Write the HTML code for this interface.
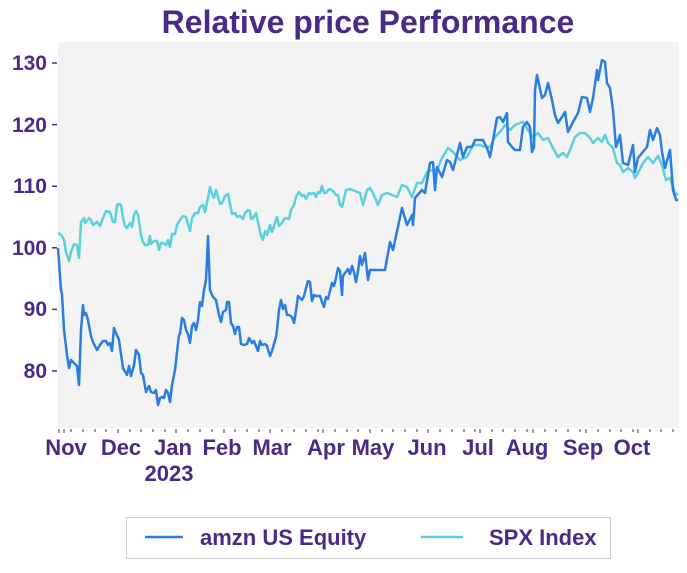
<!DOCTYPE html><html><head><meta charset="utf-8"><style>
body{margin:0;background:#fff;width:687px;height:568px;overflow:hidden}
text{font-family:"Liberation Sans","DejaVu Sans",sans-serif;fill:#4b2a87;font-weight:bold}
</style></head><body>
<svg width="687" height="568" xmlns="http://www.w3.org/2000/svg">
<text x="368" y="33" font-size="32" text-anchor="middle">Relative price Performance</text>
<rect x="58" y="42" width="621" height="386" fill="#f3f3f3"/>
<g stroke="#4b2a87" stroke-width="1.5">
<line x1="52" y1="63" x2="57" y2="63"/><line x1="52" y1="124.6" x2="57" y2="124.6"/><line x1="52" y1="186.2" x2="57" y2="186.2"/><line x1="52" y1="247.8" x2="57" y2="247.8"/><line x1="52" y1="309.4" x2="57" y2="309.4"/><line x1="52" y1="371" x2="57" y2="371"/>
</g>
<g font-size="21" text-anchor="end">
<text x="47" y="70">130</text><text x="47" y="132">120</text><text x="47" y="193">110</text><text x="47" y="255">100</text><text x="47" y="316">90</text><text x="47" y="378">80</text>
</g>
<g stroke="#4b2a87" stroke-width="1">
<path d="M59 429v4M64 429v4M71 429v3M83 429v3M95 429v3M106 429v3M118 429v4M130 429v3M141 429v3M153 429v3M165 429v3M176 429v4M188 429v3M200 429v3M212 429v3M224 429v4M235 429v3M247 429v3M259 429v3M270 429v4M282 429v3M294 429v3M306 429v3M318 429v3M323 429v4M335 429v3M347 429v3M358 429v3M370 429v4M382 429v3M393 429v3M405 429v3M417 429v3M428 429v4M440 429v3M452 429v3M464 429v3M475 429v3M480 429v4M492 429v3M503 429v3M515 429v3M527 429v3M533 429v4M545 429v3M556 429v3M568 429v3M580 429v3M586 429v4M598 429v3M610 429v3M621 429v3M633 429v3M638 429v4M650 429v3M661 429v3M673 429v3"/>
</g>
<g font-size="22" text-anchor="middle">
<text x="66" y="455">Nov</text><text x="121" y="455">Dec</text><text x="173" y="455">Jan</text><text x="222" y="455">Feb</text><text x="272" y="455">Mar</text><text x="326" y="455">Apr</text><text x="373" y="455">May</text><text x="427" y="455">Jun</text><text x="478" y="455">Jul</text><text x="527" y="455">Aug</text><text x="583" y="455">Sep</text><text x="632" y="455">Oct</text>
<text x="169" y="481">2023</text>
</g>
<polyline fill="none" stroke="#5bd0df" stroke-width="2.5" stroke-linejoin="round" points="58,233 60,234 62,236 64,240 66,252 69,261 71,252 74,244 77,245 79,258 81,222 84,218 85,223 89,218 91,220 93,225 97,222 100,226 103,218 106,211 110,212 113,222 115,222 117,205 119,204 121,205 123,218 125,226 127,228 130,223 132,227 134,215 136,211 138,215 141,235 143,242 145,245 148,245 150,236 151,244 154,241 157,241 159,250 161,243 163,243 166,245 168,240 170,247 172,234 175,234 177,225 180,220 183,216 186,217 188,224 190,231 192,218 195,213 198,213 200,207 203,205 205,212 208,198 210,187 212,194 214,198 216,190 218,197 220,204 222,203 225,196 228,194 230,204 232,214 235,213 237,217 240,216 243,219 245,213 248,210 250,211 251,219 253,218 256,213 258,222 261,236 263,240 265,231 267,235 270,225 272,232 274,226 277,217 279,226 282,223 284,219 286,218 289,219 291,210 294,205 296,197 299,192 302,196 304,195 306,199 309,193 311,194 314,193 316,197 318,192 320,193 322,186 324,193 326,193 328,190 330,189 333,191 336,195 338,195 340,205 342,207 344,199 346,190 350,189 355,191 360,193 363,205 367,190 370,188 373,193 378,205 382,195 387,193 392,195 397,197 402,185 407,187 412,197 417,183 422,183 427,172 432,170 437,170 442,158 448,148 453,152 460,160 467,157 473,145 480,145 485,147 490,147 495,137 500,132 505,125 510,130 515,125 520,123 523,122 528,130 533,137 538,133 543,140 548,138 553,148 558,157 563,153 567,157 570,150 575,137 580,133 585,133 590,138 593,143 598,138 602,142 605,135 608,143 613,148 617,163 620,165 623,172 628,168 633,172 635,178 638,173 643,163 648,157 653,163 658,156 662,165 666,180 670,178 675,193 678,195"/>
<polyline fill="none" stroke="#2a7de1" stroke-width="2.5" stroke-linejoin="round" points="58,248 61,290 62,294 64,330 67,355 69,368 71,360 75,364 77,366 79,385 81,330 83,305 84,315 86,313 88,320 91,336 93,342 97,350 100,345 103,341 106,341 108,345 110,343 112,351 114,328 116,333 119,340 123,368 127,375 129,366 131,376 134,365 136,350 139,355 141,373 143,375 146,392 149,386 151,392 154,393 156,390 158,405 160,398 162,397 164,398 166,390 168,393 170,402 172,385 175,370 177,352 179,335 180,334 182,318 184,320 186,330 188,334 190,343 192,326 194,323 196,330 198,320 200,302 202,306 204,290 206,280 207,260 208,236 210,290 212,295 214,298 216,300 219,315 221,322 223,312 226,310 227,302 229,302 231,323 233,326 235,334 237,327 239,327 241,344 244,345 247,344 249,338 252,343 254,341 256,346 258,351 260,341 262,345 265,344 267,346 270,356 272,351 276,337 277,330 279,310 281,300 283,309 285,305 287,315 289,315 292,317 294,323 296,311 298,296 300,298 302,300 304,296 306,288 308,281 310,282 312,301 314,295 316,296 318,296 320,296 322,302 324,307 326,297 328,299 330,291 332,283 334,286 336,278 338,268 340,271 342,295 343,276 345,273 348,269 350,274 352,266 354,272 356,282 358,271 360,256 362,265 365,253 368,280 370,270 385,270 390,242 393,250 402,208 407,225 412,215 413,225 415,198 422,190 425,193 430,163 433,162 435,190 437,167 442,177 447,160 450,162 453,170 460,143 463,157 467,147 472,147 475,140 483,140 487,148 490,157 497,118 500,117 503,122 507,113 508,142 512,147 515,150 520,150 523,127 527,122 530,127 532,152 534,147 535,90 537,75 542,98 545,95 548,83 552,100 555,115 558,123 562,117 565,112 568,132 573,122 578,113 582,97 587,98 590,112 593,98 597,70 598,80 602,60 605,62 607,83 610,88 613,110 616,147 620,135 623,163 628,165 633,145 635,172 638,158 642,153 647,147 650,130 653,140 657,128 660,135 662,152 665,168 670,150 673,190 676,200 678,200"/>
<rect x="126.5" y="517.5" width="484" height="41" fill="#fff" stroke="#ccc"/>
<line x1="145" y1="537" x2="183" y2="537" stroke="#2a7de1" stroke-width="2.5"/>
<text x="200" y="545" font-size="22">amzn US Equity</text>
<line x1="421" y1="537" x2="463" y2="537" stroke="#5bd0df" stroke-width="2.5"/>
<text x="489" y="545" font-size="22">SPX Index</text>
</svg>
</body></html>
